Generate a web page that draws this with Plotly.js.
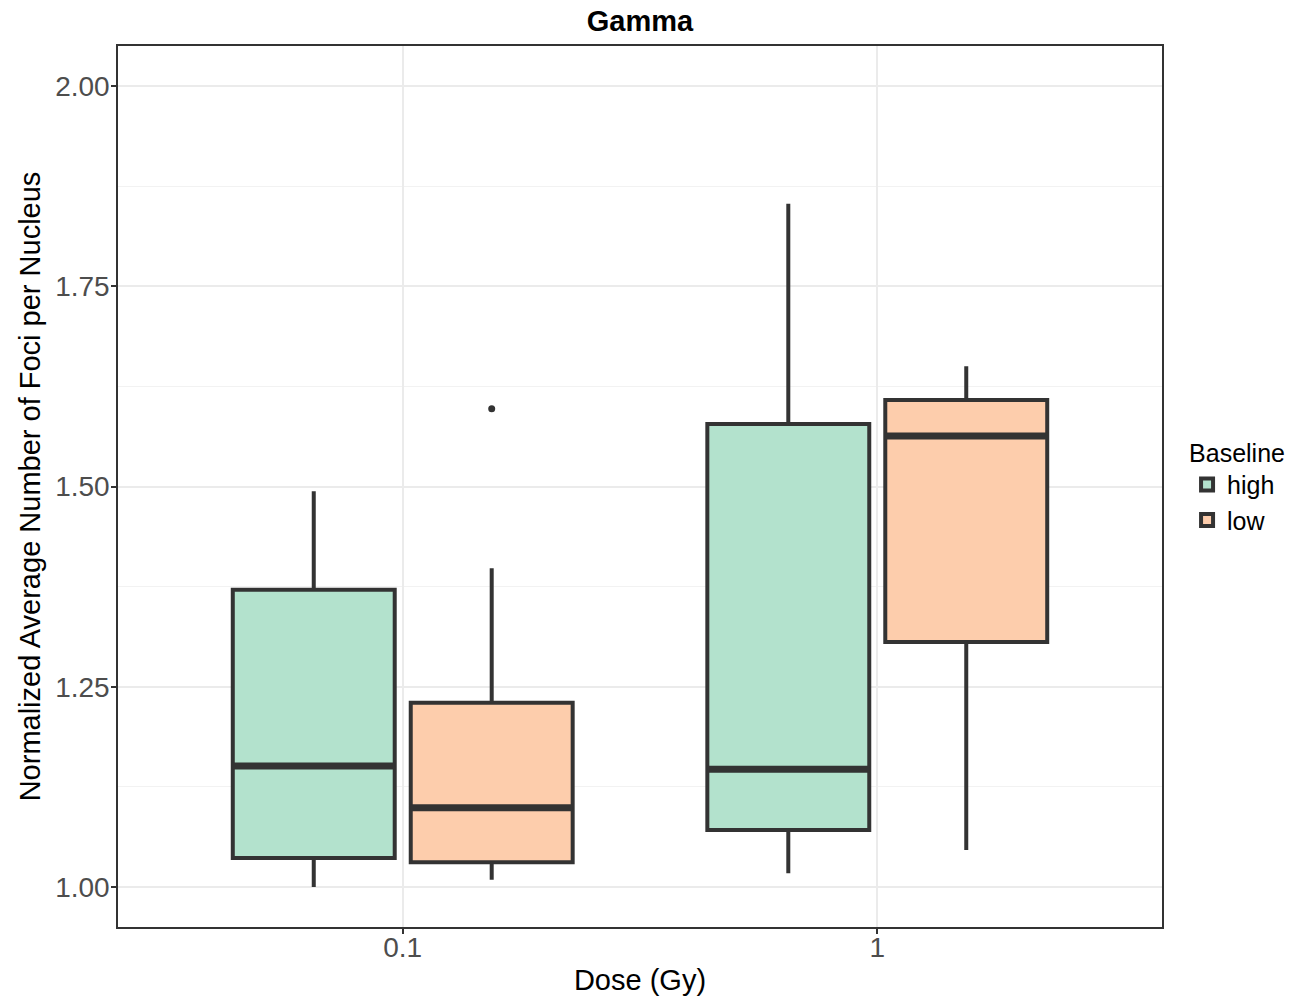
<!DOCTYPE html>
<html>
<head>
<meta charset="utf-8">
<script src="https://cdn.plot.ly/plotly-3.0.1.min.js"></script>
<style>
  html, body { margin: 0; padding: 0; background: #fff; }
  #chart { width: 1299px; height: 999px; }
</style>
</head>
<body>
<div id="chart"></div>
<script>
// Dose levels on the x axis
var doses = ['0.1', '1'];

// Box statistics per baseline group, one value per dose
var highQ1 = [1.036, 1.071];
var highMedian = [1.151, 1.147];
var highQ3 = [1.371, 1.578];
var highLower = [1.000, 1.017];
var highUpper = [1.494, 1.853];

var lowQ1 = [1.031, 1.306];
var lowMedian = [1.099, 1.563];
var lowQ3 = [1.230, 1.608];
var lowLower = [1.009, 1.046];
var lowUpper = [1.398, 1.650];
var lowOutliers = [[1.597], []];

var groupNames = ['high', 'low'];
var fills = ['#b3e2cd', '#fdcdac'];
var edge = '#333333';

function boxTrace(name, fill, q1, med, q3, lo, hi, pts) {
  var t = {
    type: 'box',
    name: name,
    offsetgroup: name,
    legendgroup: name,
    x: doses,
    q1: q1,
    median: med,
    q3: q3,
    lowerfence: lo,
    upperfence: hi,
    fillcolor: fill,
    line: { color: edge, width: 4 },
    marker: { color: edge, size: 7, outliercolor: edge },
    whiskerwidth: 0,
    hoverinfo: 'y'
  };
  if (pts) {
    t.y = pts;
    t.boxpoints = 'outliers';
  }
  return t;
}

// Heavier median bar drawn as a flat box at the median value
function medianTrace(name, med) {
  return {
    type: 'box',
    name: name,
    offsetgroup: name,
    legendgroup: name,
    showlegend: false,
    x: doses,
    q1: med,
    median: med,
    q3: med,
    lowerfence: med,
    upperfence: med,
    fillcolor: 'rgba(0,0,0,0)',
    line: { color: edge, width: 7 },
    whiskerwidth: 0,
    hoverinfo: 'skip'
  };
}

var data = [
  boxTrace(groupNames[0], fills[0], highQ1, highMedian, highQ3, highLower, highUpper, null),
  boxTrace(groupNames[1], fills[1], lowQ1, lowMedian, lowQ3, lowLower, lowUpper, lowOutliers),
  medianTrace(groupNames[0], highMedian),
  medianTrace(groupNames[1], lowMedian)
];

var fontFamily = 'Liberation Sans, Arial, sans-serif';

var layout = {
  width: 1299,
  height: 999,
  paper_bgcolor: '#ffffff',
  plot_bgcolor: '#ffffff',
  margin: { l: 118, r: 135, t: 46, b: 72 },
  font: { family: fontFamily, color: '#000000' },
  title: {
    text: '<b>Gamma</b>',
    font: { family: fontFamily, size: 29, color: '#000000' },
    x: 0.5, xref: 'paper', xanchor: 'center',
    y: 0.979, yref: 'container', yanchor: 'middle'
  },
  boxmode: 'group',
  boxgap: 0.25,
  boxgroupgap: 0.09,
  xaxis: {
    type: 'category',
    categories: doses,
    range: [-0.6, 1.6],
    showgrid: true,
    gridcolor: '#ebebeb',
    gridwidth: 2,
    zeroline: false,
    showline: true,
    mirror: true,
    linecolor: edge,
    linewidth: 1.5,
    ticks: 'outside',
    ticklen: 5,
    tickwidth: 2,
    tickcolor: edge,
    ticklabelstandoff: -10,
    tickfont: { family: fontFamily, size: 28, color: '#4d4d4d' },
    title: { text: 'Dose (Gy)', font: { family: fontFamily, size: 29, color: '#000000' }, standoff: 7 }
  },
  yaxis: {
    range: [0.95, 2.05],
    tick0: 1,
    dtick: 0.25,
    tickformat: '.2f',
    showgrid: true,
    gridcolor: '#ebebeb',
    gridwidth: 2,
    minor: { dtick: 0.125, showgrid: true, gridcolor: '#f2f2f2', gridwidth: 1, ticks: '' },
    zeroline: false,
    showline: true,
    mirror: true,
    linecolor: edge,
    linewidth: 1.5,
    ticks: 'outside',
    ticklen: 5,
    tickwidth: 2,
    tickcolor: edge,
    ticklabelstandoff: -4,
    tickfont: { family: fontFamily, size: 28, color: '#4d4d4d' },
    title: { text: 'Normalized Average Number of Foci per Nucleus', font: { family: fontFamily, size: 29, color: '#000000' }, standoff: 6 }
  },
  showlegend: true,
  legend: {
    title: { text: 'Baseline', font: { family: fontFamily, size: 25, color: '#000000' } },
    font: { family: fontFamily, size: 25, color: '#000000' },
    x: 1.024, xanchor: 'left',
    y: 0.565, yanchor: 'top',
    bgcolor: 'rgba(0,0,0,0)',
    tracegroupgap: 0,
    itemwidth: 30
  }
};

Plotly.newPlot('chart', data, layout, { displayModeBar: false, responsive: false });
</script>
</body>
</html>
